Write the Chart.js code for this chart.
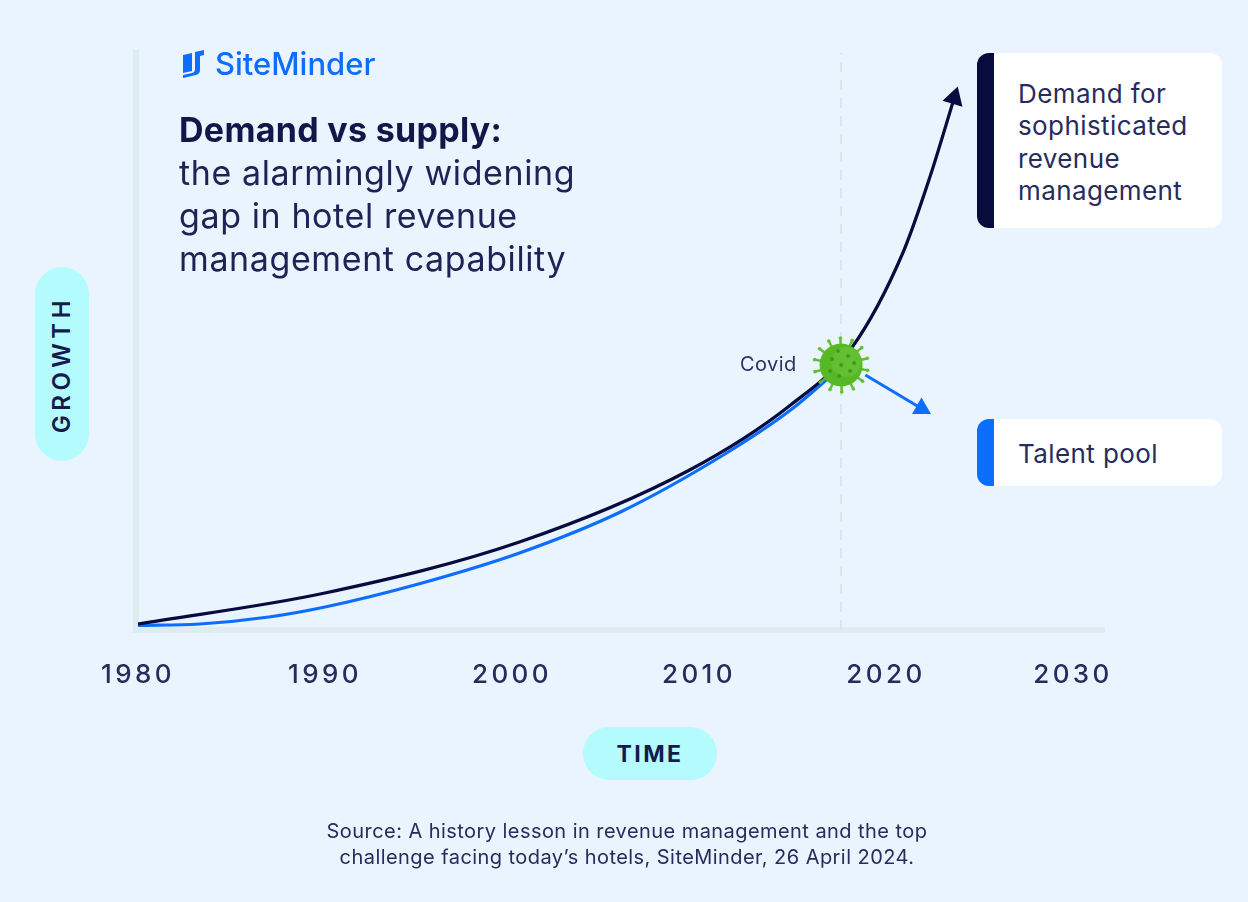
<!DOCTYPE html>
<html lang="en">
<head>
  <meta charset="UTF-8">
  <title>Demand vs supply</title>
  <script src="https://cdn.jsdelivr.net/npm/chart.js"></script>
  <style>
    html, body { margin: 0; padding: 0; }
    body { width: 1248px; height: 902px; background: #e9f4ff; position: relative; overflow: hidden; font-family: Inter, sans-serif; color: #141b4d; }
    canvas { position: absolute; left: 0; top: 0; }
    .abs { position: absolute; white-space: nowrap; }
    .title { left: 179px; top: 108px; font-size: 34px; line-height: 43px; color: #1d2355; letter-spacing: 0.6px; }
    .title b { font-weight: 700; color: #12174a; letter-spacing: 0.3px; }
    .logo { left: 215px; top: 45px; font-size: 31px; line-height: 38px; font-weight: 500; color: #0d6efd; }
    .pill { background: #b4fbfd; color: #141b4d; font-weight: 700; letter-spacing: 2.4px; font-size: 23px; display: flex; align-items: center; justify-content: center; }
    .time { left: 583px; top: 727px; width: 134px; height: 53px; border-radius: 27px; }
    .growth { left: 35px; top: 267px; width: 54px; height: 194px; border-radius: 27px; font-size: 24px; font-weight: 600; letter-spacing: 4.6px; }
    .growth span { transform: rotate(-90deg); display: block; }
    .card { background: #fff; border-radius: 12px; overflow: hidden; left: 977px; width: 245px; }
    .card i { position: absolute; left: 0; top: 0; bottom: 0; width: 17px; }
    .card div { position: absolute; left: 41px; font-size: 26px; line-height: 32.3px; color: #262c5c; letter-spacing: 0.4px; }
    .source { left: 227px; width: 800px; top: 818px; text-align: center; font-size: 20px; line-height: 26px; color: #262c5c; letter-spacing: 0.44px; }
    .covid { left: 740px; top: 351px; font-size: 20px; line-height: 26px; color: #2b3160; letter-spacing: 0.4px; }
  </style>
</head>
<body>
  <canvas id="chart" width="1248" height="902"></canvas>

  <svg class="abs" style="left:182px;top:49px" width="24" height="30" viewBox="0 0 24 30">
    <path d="M1 6 L10 4 V22 L1 24 Z M13 3 L22 1 V6 L18 7 V21 Q18 25 14 26 L1 29 V26 L10 24 Q13 23.5 13 20 Z" fill="#0d6efd"/>
  </svg>
  <div class="abs logo">SiteMinder</div>

  <div class="abs title"><b>Demand vs supply:</b><br>the alarmingly widening<br>gap in hotel revenue<br>management capability</div>

  <div class="abs pill growth"><span>GROWTH</span></div>
  <div class="abs pill time">TIME</div>

  <div class="abs covid">Covid</div>

  <div class="abs card" style="top:53px;height:175px"><i style="background:#070b3e"></i>
    <div style="top:25px">Demand for<br>sophisticated<br>revenue<br>management</div></div>
  <div class="abs card" style="top:419px;height:67px"><i style="background:#0d6efd"></i>
    <div style="top:19px">Talent pool</div></div>

  <div class="abs source">Source: A history lesson in revenue management and the top<br>challenge facing today’s hotels, SiteMinder, 26 April 2024.</div>

  <script>
    // values, y is an index with 0 on the axis
    const tickYears = [1980, 1990, 2000, 2010, 2020, 2030];

    const demandYears = [1980, 1990, 2000.4, 2009.5, 2014.9, 2018.2, 2020.9, 2022.35, 2023.65];
    const demandValues = [6, 37, 88, 160, 225, 283, 377, 453, 532];

    const talentYears = [1980, 1983.3, 1987, 1990, 1995, 2000.4, 2005.8, 2011.3, 2014.9, 2017.3];
    const talentValues = [4.5, 6, 13, 23, 46, 77, 118, 175, 220, 258];

    const dropYears = [2018.9, 2021.9];
    const dropValues = [255, 221.5];

    const covidYear = 2017.6;
    const covidValue = 265;
    const guideValues = [0, 577];

    const pairs = (xs, ys) => xs.map((x, i) => ({ x, y: ys[i] }));

    // little virus used as point style
    function makeVirus() {
      const c = document.createElement('canvas');
      c.width = 60; c.height = 60;
      const g = c.getContext('2d');
      g.translate(30, 30);
      g.strokeStyle = '#5fbf2e';
      g.fillStyle = '#5fbf2e';
      g.lineWidth = 2.5;
      for (let i = 0; i < 14; i++) {
        const a = i / 14 * Math.PI * 2 + 0.2;
        g.beginPath();
        g.moveTo(Math.cos(a) * 20, Math.sin(a) * 20);
        g.lineTo(Math.cos(a) * 27, Math.sin(a) * 27);
        g.stroke();
        g.beginPath();
        g.arc(Math.cos(a) * 27, Math.sin(a) * 27, 1.8, 0, Math.PI * 2);
        g.fill();
      }
      g.beginPath(); g.arc(0, 0, 21.5, 0, Math.PI * 2); g.fillStyle = '#55b824'; g.fill();
      g.beginPath(); g.arc(5, -3, 15, 0, Math.PI * 2); g.fillStyle = 'rgba(130,205,80,.35)'; g.fill();
      g.fillStyle = '#3f9a1c';
      [[0, 0], [-9, -6], [7, -9], [-11, 6], [9, 6], [-2, 11], [-3, -14], [13, -2]].forEach(d => {
        g.beginPath(); g.arc(d[0], d[1], 2, 0, Math.PI * 2); g.fill();
      });
      return c;
    }

    const lastAngle = (xs, deg) => xs.map((x, i) => i === xs.length - 1 ? deg : 0);
    const lastRadius = (xs, r) => xs.map((x, i) => i === xs.length - 1 ? r : 0);

    const spacing = {
      id: 'spacing',
      beforeDraw(chart) { chart.ctx.letterSpacing = '3.4px'; }
    };

    new Chart(document.getElementById('chart'), {
      type: 'scatter',
      plugins: [spacing],
      data: {
        datasets: [
          { label: 'Covid', data: [{ x: covidYear, y: covidValue }], pointStyle: makeVirus(), pointRadius: 30 },
          { label: 'Demand', data: pairs(demandYears, demandValues), showLine: true, cubicInterpolationMode: 'monotone', borderColor: '#070b3e', borderWidth: 3.2, pointStyle: 'triangle', pointRadius: lastRadius(demandYears, 12), pointRotation: lastAngle(demandYears, 17), backgroundColor: '#070b3e', pointBorderWidth: 0 },
          { label: 'Talent pool after Covid', data: pairs(dropYears, dropValues), showLine: true, borderColor: '#0d6efd', borderWidth: 3, pointStyle: 'triangle', pointRadius: lastRadius(dropYears, 11), pointRotation: lastAngle(dropYears, 120), backgroundColor: '#0d6efd', pointBorderWidth: 0 },
          { label: 'Talent pool', data: pairs(talentYears, talentValues), showLine: true, cubicInterpolationMode: 'monotone', borderColor: '#0d6efd', borderWidth: 3.2, pointRadius: 0 },
          { label: 'guide', data: guideValues.map(y => ({ x: covidYear, y })), showLine: true, borderColor: '#d3e6e9', borderWidth: 2, borderDash: [10, 8], pointRadius: 0 }
        ]
      },
      options: {
        responsive: false,
        animation: false,
        layout: { padding: { left: 136, right: 144, top: 53, bottom: 0 } },
        plugins: { legend: { display: false }, tooltip: { enabled: false } },
        scales: {
          x: {
            type: 'linear',
            min: 1979.893,
            max: 2031.66,
            afterBuildTicks: s => { s.ticks = tickYears.map(value => ({ value })); },
            afterFit: s => { s.height = 272; },
            grid: { display: false },
            border: { color: '#dcecf0', width: 6 },
            ticks: { color: '#262c5c', font: { family: 'Inter', size: 26, weight: '500' }, padding: 22, maxRotation: 0, autoSkip: false, callback: v => String(v) }
          },
          y: {
            min: 0,
            max: 577,
            afterFit: s => { s.width = 0; },
            grid: { display: false },
            border: { color: '#dcecf0', width: 6 },
            ticks: { display: false }
          }
        }
      }
    });
  </script>
</body>
</html>
